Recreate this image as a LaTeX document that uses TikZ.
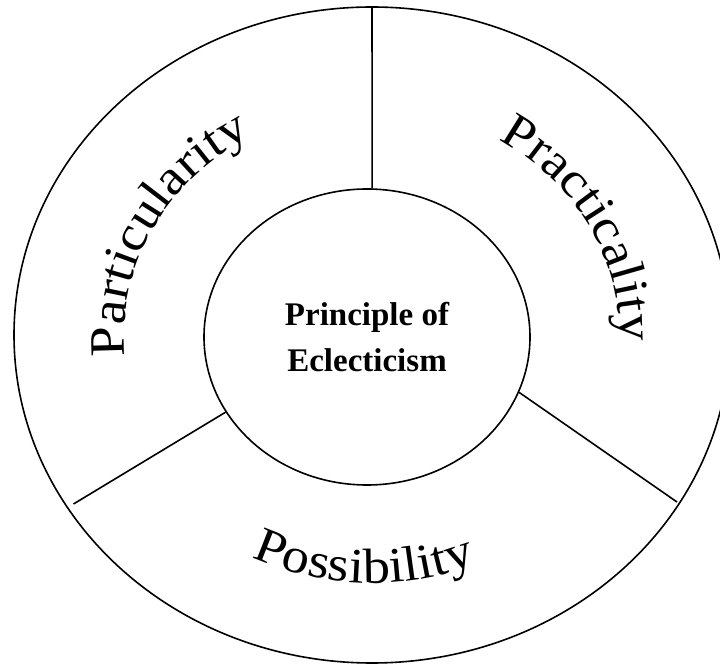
\documentclass[tikz,border=0pt]{standalone}
\usepackage{fontspec}
\setmainfont{Liberation Serif}
\newfontfamily\arcfont[FakeStretch=1.1]{Liberation Serif}
\usetikzlibrary{shapes.geometric,decorations.text,calc}
\begin{document}
\begin{tikzpicture}[x=1pt,y=1pt,
  ringline/.style={line width=1.6pt}]
\useasboundingbox (0,0) rectangle (720,664);
\coordinate (ctr) at (372,329);
\node[ellipse, draw, ringline, minimum width=716pt, minimum height=656pt, inner sep=0pt] (ring) at (ctr) {};
\node[ellipse, draw, ringline, minimum width=326pt, minimum height=296pt, inner sep=0pt, align=center,
      font=\fontsize{33}{46}\selectfont\bfseries] (core) at (367,327) {Principle of\\Eclecticism};
\coordinate (topend) at (372,656);
\coordinate (leftend) at (73.5,160);
\coordinate (rightend) at (677,162);
\draw[ringline] (core.88) -- (topend);
\draw[ringline] (core.208) -- (leftend);
\draw[ringline] (core.340) -- (rightend);
% curved labels
\path[decorate, decoration={text along path, text align=center,
      text={|\arcfont\fontsize{49.5}{50}\selectfont|Particularity}}]
  ($(ctr)+(208.5:247.8pt and 227pt)$) arc[start angle=208.5, end angle=97.5, x radius=247.8pt, y radius=227pt];
\path[decorate, decoration={text along path, text align=center,
      text={|\arcfont\fontsize{49.5}{50}\selectfont|Practicality}}]
  ($(ctr)+(83:247.8pt and 227pt)$) arc[start angle=83, end angle=-27, x radius=247.8pt, y radius=227pt];
\path[decorate, decoration={text along path, text align=center,
      text={|\arcfont\fontsize{49.5}{50}\selectfont|Possibility}}]
  ($(ctr)+(213:270.7pt and 248pt)$) arc[start angle=213, end angle=323, x radius=270.7pt, y radius=248pt];
\end{tikzpicture}
\end{document}
